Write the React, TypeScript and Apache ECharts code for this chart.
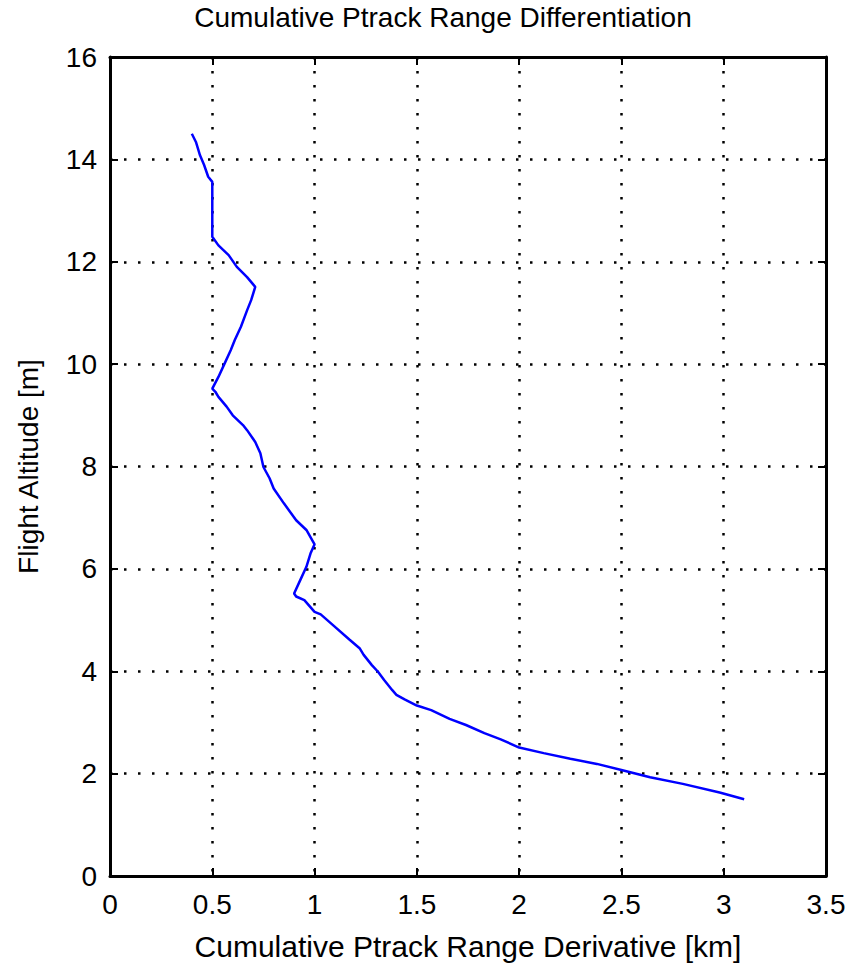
import React, { useEffect, useRef } from "react";
import * as echarts from "echarts";

const TITLE = "Cumulative Ptrack Range Differentiation";
const X_NAME = "Cumulative Ptrack Range Derivative [km]";
const Y_NAME = "Flight Altitude [m]";

// Cumulative range derivative [km]
const rangeDerivative = [
  0.4, 0.42, 0.44, 0.46, 0.48, 0.5, 0.5, 0.53, 0.58, 0.62, 0.67, 0.71,
  0.69, 0.67, 0.64, 0.61, 0.59, 0.56, 0.53, 0.5, 0.515, 0.53, 0.57, 0.6, 0.65,
  0.67, 0.71, 0.735, 0.75, 0.78, 0.8, 0.85, 0.91, 0.96, 1.0, 0.98, 0.96, 0.93, 0.9,
  0.91, 0.95, 1.0, 1.03, 1.09, 1.17, 1.22, 1.24, 1.28, 1.31, 1.34, 1.38, 1.4, 1.44,
  1.5, 1.57, 1.66, 1.74, 1.83, 1.91, 2.0, 2.12, 2.25, 2.38, 2.5, 2.64, 2.8, 2.98, 3.1,
];
// Flight altitude
const altitude = [
  14.5, 14.34, 14.08, 13.89, 13.66, 13.56, 12.49, 12.32, 12.13, 11.9, 11.7, 11.51,
  11.25, 11.05, 10.73, 10.47, 10.27, 10.01, 9.75, 9.52, 9.46, 9.36, 9.17, 9.0, 8.81,
  8.71, 8.48, 8.26, 7.99, 7.77, 7.57, 7.28, 6.95, 6.76, 6.48, 6.3, 6.04, 5.78, 5.52,
  5.46, 5.39, 5.16, 5.11, 4.9, 4.62, 4.45, 4.32, 4.12, 3.99, 3.83, 3.63, 3.54, 3.45,
  3.33, 3.24, 3.07, 2.95, 2.79, 2.67, 2.51, 2.4, 2.29, 2.19, 2.07, 1.93, 1.8, 1.63, 1.5,
];

const X_MIN = 0;
const X_MAX = 3.5;
const X_STEP = 0.5;
const Y_MIN = 0;
const Y_MAX = 16;
const Y_STEP = 2;

const FONT = '"Liberation Sans", Arial, sans-serif';

export default function App() {
  const ref = useRef<HTMLDivElement>(null);

  useEffect(() => {
    if (!ref.current) return;
    const chart = echarts.init(ref.current, undefined, { renderer: "svg" });
    const frame = { show: true, onZero: false, lineStyle: { color: "#000", width: 3 } };
    const tick = { show: true, inside: true, length: 8, lineStyle: { color: "#000", width: 2 } };
    const grid = { show: true, lineStyle: { color: "#000", width: 2.5, type: [2.5, 11.5] as any } };
    const label = { color: "#000", fontSize: 28, fontFamily: FONT };
    const xCommon = { type: "value" as const, min: X_MIN, max: X_MAX, interval: X_STEP };
    const yCommon = { type: "value" as const, min: Y_MIN, max: Y_MAX, interval: Y_STEP };

    chart.setOption({
      animation: false,
      backgroundColor: "#fff",
      textStyle: { fontFamily: FONT },
      graphic: [
        {
          type: "text",
          x: 443,
          y: 3,
          style: {
            text: TITLE,
            fill: "#000",
            font: `28px ${FONT}`,
            textAlign: "center",
            textVerticalAlign: "top",
          },
        },
      ],
      grid: {
        left: 110,
        top: 57,
        width: 716,
        height: 819,
        containLabel: false,
        outerBoundsMode: "none",
      },
      xAxis: [
        {
          ...xCommon,
          position: "bottom",
          name: X_NAME,
          nameLocation: "middle",
          nameGap: 55,
          nameTextStyle: { ...label, fontSize: 30 },
          axisLine: frame,
          axisTick: tick,
          axisLabel: { ...label, margin: 14, formatter: (v: number) => String(v) },
          splitLine: grid,
        },
        {
          ...xCommon,
          position: "top",
          axisLine: frame,
          axisTick: tick,
          axisLabel: { show: false },
          splitLine: { show: false },
        },
      ],
      yAxis: [
        {
          ...yCommon,
          position: "left",
          name: Y_NAME,
          nameLocation: "middle",
          nameGap: 68,
          nameRotate: 90,
          nameTextStyle: { ...label },
          axisLine: frame,
          axisTick: tick,
          axisLabel: { ...label, margin: 13 },
          splitLine: grid,
        },
        {
          ...yCommon,
          position: "right",
          axisLine: frame,
          axisTick: tick,
          axisLabel: { show: false },
          splitLine: { show: false },
        },
      ],
      series: [
        {
          type: "line",
          xAxisIndex: 0,
          yAxisIndex: 0,
          data: rangeDerivative.map((x, i) => [x, altitude[i]]),
          showSymbol: false,
          symbol: "none",
          lineStyle: { color: "#0000ff", width: 2.5 },
          silent: true,
        },
      ],
    });
    return () => chart.dispose();
  }, []);

  return (
    <div
      ref={ref}
      style={{ position: "absolute", left: 0, top: 0, width: 859, height: 966, background: "#fff" }}
    />
  );
}
